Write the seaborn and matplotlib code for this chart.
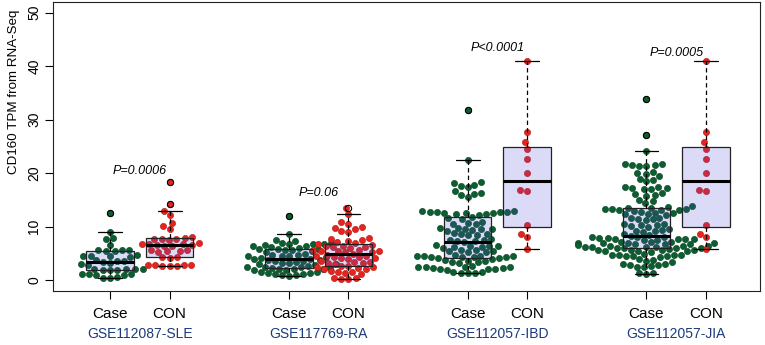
import pandas as pd
import matplotlib
matplotlib.use('Agg')
import matplotlib.pyplot as plt
from matplotlib import transforms
import seaborn as sns

# values
datasets = ['GSE112087-SLE', 'GSE117769-RA', 'GSE112057-IBD', 'GSE112057-JIA']
groups = ['Case', 'CON']
positions = [1, 2, 4, 5, 7, 8, 10, 11]
p_texts = ['P=0.0006', 'P=0.06', 'P<0.0001', 'P=0.0005']
p_heights = [20.5, 16.4, 43.4, 42.4]

sle_case = [12.6, 9.1, 7.9, 7.7, 6.6,
            5.7, 5.6, 5.6, 5.5, 5.4,
            4.7, 4.6, 4.6, 4.5, 4.4,
            3.8, 3.7, 3.6, 3.5,
            3.2, 3.0, 2.8,
            2.2, 2.2, 2.1, 2.1, 2.0, 2.0, 1.9,
            1.2, 1.1, 1.1, 1.0, 1.0,
            0.6, 0.5, 0.4]
sle_con = [18.4, 14.3, 12.9, 12.2, 10.8, 10.2, 9.6,
           8.0, 7.9, 7.8, 7.8, 7.7, 7.6,
           6.9, 6.8, 6.8, 6.7, 6.6, 6.6, 6.5, 6.4,
           5.6, 5.6, 5.5, 5.4, 5.3,
           4.4, 4.3, 4.2,
           2.9, 2.9, 2.8, 2.8, 2.7, 2.7, 2.6]
ra_case = [12.0, 8.7, 7.6, 7.4,
           7.0, 6.9, 6.8, 6.8, 6.7, 6.6, 6.5, 6.4, 6.2,
           6.0, 5.9, 5.8, 5.8, 5.7, 5.6, 5.5, 5.3,
           5.0, 4.8, 4.7, 4.6, 4.6, 4.5, 4.3, 4.2,
           4.0, 3.9, 3.8, 3.8, 3.7, 3.6, 3.5,
           3.3, 3.2, 3.1, 3.0, 2.9, 2.7,
           2.5, 2.4, 2.4, 2.3, 2.3, 2.2, 2.2, 2.1, 2.0, 1.9,
           1.6, 1.5, 1.4, 1.3, 1.2, 1.1, 1.0, 0.9, 0.8]
ra_con = [13.5, 12.3, 10.9, 10.6,
          10.0, 9.8, 9.5, 9.3, 9.0,
          7.9, 7.7, 7.6, 7.4, 7.2, 7.0,
          6.7, 6.6, 6.5, 6.4, 6.3, 6.2, 6.1,
          5.7, 5.6, 5.5, 5.5, 5.4, 5.3, 5.2, 4.9, 4.8,
          4.6, 4.5, 4.4, 4.3, 4.2, 4.1, 4.0,
          3.6, 3.5, 3.4, 3.3, 3.2, 3.1,
          2.7, 2.6, 2.5, 2.4, 2.3, 2.2, 2.1,
          1.7, 1.6, 1.5, 1.4, 1.2,
          0.5, 0.4, 0.3, 0.3]
ibd_case = [31.8, 22.4,
            18.3, 18.1, 17.9, 17.6, 17.4,
            16.7, 16.4, 16.2, 15.9, 15.6,
            12.9, 12.9, 12.8, 12.8, 12.7, 12.7, 12.6, 12.6, 12.5, 12.4, 12.3, 12.2,
            11.8, 11.6, 11.5,
            10.9, 10.8, 10.6, 10.5,
            9.8, 9.7, 9.6, 9.6, 9.5, 9.4, 9.3,
            8.8, 8.7, 8.6, 8.5, 8.4,
            7.7, 7.6, 7.5, 7.4, 7.3, 7.2,
            6.6, 6.5, 6.4, 6.4, 6.3, 6.2, 6.1,
            5.7, 5.6, 5.5, 5.4, 5.3, 5.2,
            4.7, 4.6, 4.6, 4.5, 4.5, 4.4, 4.4, 4.3, 4.3, 4.2, 4.1,
            3.9, 3.8, 3.7, 3.6, 3.5, 3.4, 3.2,
            2.6, 2.5, 2.5, 2.4, 2.4, 2.3, 2.3, 2.2, 2.2, 2.1, 2.0,
            1.6, 1.5, 1.4, 1.4, 1.3]
ibd_con = [41.0, 27.7, 25.8, 24.6, 22.7, 20.1, 16.9, 16.6, 10.3, 8.7, 8.1, 5.9]
jia_case = [33.8, 27.2, 24.1,
            21.8, 21.7, 21.5, 21.5, 21.4, 21.3,
            20.3, 20.1, 19.8, 19.5,
            18.9, 18.7, 18.5,
            17.5, 17.4, 17.3, 17.2, 17.1, 17.0,
            16.3, 16.1, 16.0, 15.8,
            15.0, 14.8, 14.5,
            13.8, 13.7, 13.6, 13.5, 13.4, 13.3, 13.3, 13.2, 13.2, 13.1, 13.0,
            12.7, 12.6, 12.5, 12.4, 12.3, 12.2,
            11.7, 11.6, 11.5, 11.4, 11.2,
            10.6, 10.5, 10.4, 10.3, 10.2, 10.0,
            9.5, 9.4, 9.3, 9.2, 9.1,
            8.6, 8.4, 8.3,
            8.1, 8.0, 8.0, 7.9, 7.9, 7.8, 7.8, 7.7, 7.7, 7.6, 7.5,
            7.2, 7.1, 7.1, 7.0, 7.0, 6.9, 6.9, 6.8, 6.8, 6.7,
            6.6, 6.5, 6.4, 6.4, 6.3, 6.3, 6.2, 6.2, 6.1, 6.1, 6.0, 6.0,
            5.8, 5.7, 5.7, 5.6, 5.6, 5.5, 5.5, 5.4, 5.3,
            4.9, 4.8, 4.8, 4.7, 4.7, 4.6, 4.6, 4.5, 4.4,
            3.9, 3.8, 3.7, 3.5,
            3.1, 3.0, 2.9, 2.8, 2.6, 2.5, 2.4,
            1.4, 1.3, 1.2]
jia_con = [41.0, 27.7, 25.8, 24.6, 22.7, 20.1, 16.9, 16.6, 10.3, 8.7, 8.1, 5.9]

all_values = [sle_case, sle_con, ra_case, ra_con, ibd_case, ibd_con, jia_case, jia_con]

# x 축 단위: 한 그룹만 그리면 swarm 폭이 0.8 데이터 단위이므로 위치를 줄여서 폭을 넓힘
scale = 0.35
rows = []
for i, vals in enumerate(all_values):
    for v in vals:
        rows.append({'dataset': datasets[i // 2], 'group': groups[i % 2],
                     'x': positions[i] * scale, 'tpm': v})
df = pd.DataFrame(rows)

sns.set_style('ticks')
plt.rcParams['font.family'] = ['Liberation Sans', 'DejaVu Sans']
plt.rcParams['text.color'] = 'black'
plt.rcParams['axes.labelcolor'] = 'black'
plt.rcParams['xtick.color'] = 'black'
plt.rcParams['ytick.color'] = 'black'

fig = plt.figure(figsize=(7.65, 3.45), dpi=100)
ax = fig.add_axes([0.0693, 0.1565, 0.9242, 0.8377])

point_colors = {'Case': '#0B5E2F', 'CON': '#E8231E'}
edge_colors = {'Case': '#063F1E', 'CON': '#AE1613'}

for x, sub in df.groupby('x'):
    g = sub['group'].iloc[0]
    sns.swarmplot(data=sub, x='x', y='tpm', native_scale=True, orient='x',
                  color=point_colors[g], edgecolor=edge_colors[g], linewidth=0.4,
                  size=4.5, warn_thresh=1, ax=ax)
for c in ax.collections:
    c.set_zorder(1)

sns.boxplot(data=df, x='x', y='tpm', native_scale=True, orient='x', width=0.8,
            whis=1.5, fliersize=4.5,
            boxprops=dict(facecolor=(0.3, 0.3, 0.85, 0.2), edgecolor='#222222', linewidth=0.9),
            medianprops=dict(color='black', linewidth=2.2),
            whiskerprops=dict(color='black', linewidth=0.9, linestyle=(0, (3.5, 2.5))),
            capprops=dict(color='black', linewidth=0.9),
            flierprops=dict(marker='o', markerfacecolor='none', markeredgecolor='black',
                            markeredgewidth=0.8, markersize=4.5),
            ax=ax)
# 상자를 점 위에 겹쳐 그림 (반투명 채우기)
for p in ax.patches:
    p.set_zorder(3)
for ln in ax.lines:
    ln.set_zorder(4)

ax.set_xlim(0.0436 * scale, 11.906 * scale)
ax.set_ylim(-2, 52)
ax.set_xticks([p * scale for p in positions])
ax.set_xticklabels(groups * 4, fontsize=11)
ax.set_yticks(range(0, 51, 10))
ax.set_yticklabels([str(v) for v in range(0, 51, 10)], rotation=90, va='center', fontsize=10)
ax.tick_params(axis='both', direction='out', length=5.5, width=0.8, color='black')
ax.tick_params(axis='x', pad=6)
ax.tick_params(axis='y', pad=3)
ax.set_xlabel('')
ax.set_ylabel('CD160 TPM from RNA-Seq', fontsize=9.6)
ax.yaxis.set_label_coords(-0.047, 0.69)
for s in ax.spines.values():
    s.set_linewidth(0.8)
    s.set_color('#222222')

for i in range(4):
    mid = (positions[2 * i] + positions[2 * i + 1]) / 2 * scale
    ax.text(mid, p_heights[i], p_texts[i], ha='center', va='center',
            fontsize=9, style='italic', color='black')

trans = transforms.blended_transform_factory(ax.transData, ax.transAxes)
for i, name in enumerate(datasets):
    mid = (positions[2 * i] + positions[2 * i + 1]) / 2 * scale
    ax.text(mid, -0.149, name, transform=trans, ha='center', va='center',
            fontsize=10, color='#1B3A7A')

fig.savefig('out.png', dpi=100)
